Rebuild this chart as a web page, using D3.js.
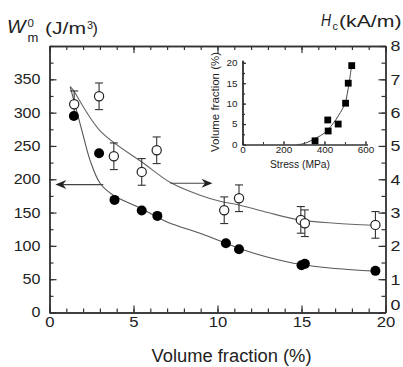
<!DOCTYPE html>
<html><head><meta charset="utf-8">
<script src="https://cdn.jsdelivr.net/npm/d3@7"></script>
<style>
body{margin:0;background:#fff}
svg{display:block}
text{font-family:"Liberation Sans",Arial,Helvetica,sans-serif;fill:#222}
</style>
</head><body>
<svg id="c" width="403" height="367"></svg>
<script>
// ---------- data ----------
const volFilled = [1.45, 2.95, 3.87, 5.49, 6.42, 10.5, 11.28, 15.0, 15.2, 19.4];
const wValues   = [295, 239, 169, 153, 145, 104, 95, 71, 73, 62.5];
const volOpen   = [1.47, 2.95, 3.83, 5.49, 6.38, 10.4, 11.28, 14.96, 15.2, 19.4];
const hcValues  = [6.25, 6.49, 4.69, 4.22, 4.87, 3.07, 3.43, 2.78, 2.68, 2.63];
const hcErrors  = [0.4, 0.4, 0.4, 0.4, 0.4, 0.4, 0.4, 0.4, 0.4, 0.4];
const wFitVol   = [1.23, 1.93, 2.42, 3.01, 3.8, 5.39, 7.0, 8.96, 10.5, 11.3, 13, 15, 17, 19.4];
const wFit      = [339, 273, 228, 194, 176, 157, 136, 119, 104, 96, 83, 72, 66, 62];
const hcFitVol  = [1.24, 1.43, 3.0, 5.6, 7.2, 8.96, 10.15, 11.34, 13, 14.9, 17, 19.25];
const hcFit     = [6.78, 6.66, 5.46, 4.48, 3.9, 3.52, 3.34, 3.22, 3.0, 2.78, 2.68, 2.62];
const xTickLabels = [0, 5, 10, 15, 20];
const wTickLabels = [0, 50, 100, 150, 200, 250, 300, 350];
const hcTickLabels = [0, 1, 2, 3, 4, 5, 6, 7, 8];
// arrows (data units)
const arrowLeft  = {x1: 3.2, x2: 0.35, w: 192};
const arrowRight = {x1: 7.2, x2: 9.7, w: 194};
// inset
const stress     = [354, 418, 416, 467, 503, 516, 533];
const volInset   = [0.9, 3.3, 6.0, 5.0, 10.1, 15.0, 19.3];
const fitStress  = [265, 290, 320, 360, 400, 440, 470, 500, 515, 533];
const fitVolIns  = [0, 0.1, 0.6, 1.6, 2.8, 5.0, 7.2, 10.0, 13.5, 19.5];
const insetXTicks = [0, 200, 400, 600];
const insetYTicks = [0, 5, 10, 15, 20];

// ---------- layout ----------
const L = 49.5, R = 385.5, T = 46, B = 312.5;
const svg = d3.select("#c");
const x = d3.scaleLinear().domain([0, 20]).range([L, R]);
const y = d3.scaleLinear().domain([0, 400]).range([B, T]);
const yR = d3.scaleLinear().domain([0, 8]).range([B, T]);
const axisColor = "#333";

function styleAxis(g) {
  g.selectAll("path,line").attr("stroke", axisColor).attr("stroke-width", 1.2);
  g.select(".domain").attr("stroke-width", 1.4);
  g.attr("font-family", null);
}

// minor ticks
svg.append("g").attr("transform", `translate(0,${B})`)
  .call(d3.axisBottom(x).tickValues(d3.range(0, 21, 1)).tickSizeInner(-4).tickSizeOuter(0).tickFormat(""))
  .call(styleAxis);
svg.append("g").attr("transform", `translate(0,${T})`)
  .call(d3.axisTop(x).tickValues(d3.range(0, 21, 1)).tickSizeInner(-4).tickSizeOuter(0).tickFormat(""))
  .call(styleAxis);
svg.append("g").attr("transform", `translate(${L},0)`)
  .call(d3.axisLeft(y).tickValues(d3.range(0, 401, 25)).tickSizeInner(-4).tickSizeOuter(0).tickFormat(""))
  .call(styleAxis);
svg.append("g").attr("transform", `translate(${R},0)`)
  .call(d3.axisRight(yR).tickValues(d3.range(0, 8.01, 0.5)).tickSizeInner(-4).tickSizeOuter(0).tickFormat(""))
  .call(styleAxis);

// major ticks + labels
const sx = 1.15;
const gxB = svg.append("g").attr("transform", `translate(0,${B})`)
  .call(d3.axisBottom(x).tickValues(xTickLabels).tickSizeInner(-7).tickSizeOuter(0).tickPadding(4))
  .call(styleAxis);
gxB.selectAll("text").attr("font-size", 14.5).attr("transform", `scale(${sx},1)`);

svg.append("g").attr("transform", `translate(0,${T})`)
  .call(d3.axisTop(x).tickValues(xTickLabels).tickSizeInner(-7).tickSizeOuter(0).tickFormat(""))
  .call(styleAxis);

const gyL = svg.append("g").attr("transform", `translate(${L},0)`)
  .call(d3.axisLeft(y).tickValues(wTickLabels).tickSizeInner(-7).tickSizeOuter(0).tickPadding(9))
  .call(styleAxis);
gyL.selectAll("text").attr("font-size", 14).attr("x", -9 / sx).attr("transform", `scale(${sx},1)`);

const gyR = svg.append("g").attr("transform", `translate(${R},0)`)
  .call(d3.axisRight(yR).tickValues(hcTickLabels).tickSizeInner(-7).tickSizeOuter(0).tickPadding(5))
  .call(styleAxis);
gyR.selectAll("text").attr("font-size", 15.5).attr("x", 5 / sx).attr("transform", `scale(${sx},1)`);
gyR.selectAll(".tick").filter(d => d === 0).select("text").attr("dy", "-0.2em");

// ---------- fit curves ----------
const line = d3.line().curve(d3.curveCatmullRom.alpha(0.5));
svg.append("path")
  .attr("d", line(wFitVol.map((v, i) => [x(v), y(wFit[i])])))
  .attr("fill", "none").attr("stroke", "#555").attr("stroke-width", 1.1);
svg.append("path")
  .attr("d", line(hcFitVol.map((v, i) => [x(v), yR(hcFit[i])])))
  .attr("fill", "none").attr("stroke", "#666").attr("stroke-width", 1.1);

// ---------- arrows ----------
function arrow(x1, x2, yy) {
  const px1 = x(x1), px2 = x(x2), py = yy;
  const dir = Math.sign(px2 - px1);
  svg.append("line").attr("x1", px1).attr("y1", py).attr("x2", px2 - dir * 3).attr("y2", py)
    .attr("stroke", "#444").attr("stroke-width", 1.2);
  const len = 11, half = 4.5, notch = 7.5;
  svg.append("path")
    .attr("d", `M${px2},${py} L${px2 - dir * len},${py - half} L${px2 - dir * notch},${py} L${px2 - dir * len},${py + half} Z`)
    .attr("fill", "#222");
}
arrow(arrowLeft.x1, arrowLeft.x2, y(arrowLeft.w));
arrow(arrowRight.x1, arrowRight.x2, y(arrowRight.w));

// ---------- error bars & open circles ----------
const eb = svg.append("g").attr("stroke", "#333").attr("stroke-width", 1.1);
volOpen.forEach((v, i) => {
  const cx = x(v), y1 = yR(hcValues[i] - hcErrors[i]), y2 = yR(hcValues[i] + hcErrors[i]);
  eb.append("line").attr("x1", cx).attr("x2", cx).attr("y1", y1).attr("y2", y2);
  eb.append("line").attr("x1", cx - 4).attr("x2", cx + 4).attr("y1", y1).attr("y2", y1);
  eb.append("line").attr("x1", cx - 4).attr("x2", cx + 4).attr("y1", y2).attr("y2", y2);
});
svg.append("g").selectAll("circle").data(volOpen).join("circle")
  .attr("cx", d => x(d)).attr("cy", (d, i) => yR(hcValues[i])).attr("r", 4.6)
  .attr("fill", "#fff").attr("stroke", "#222").attr("stroke-width", 1.2);

// filled circles
svg.append("g").selectAll("circle").data(volFilled).join("circle")
  .attr("cx", d => x(d)).attr("cy", (d, i) => y(wValues[i])).attr("r", 5)
  .attr("fill", "#000");

// ---------- axis titles ----------
function txt(s, px, py, size, opts = {}) {
  const t = svg.append("text").attr("x", px).attr("y", py).attr("font-size", size).text(s);
  if (opts.italic) t.attr("font-style", "italic");
  if (opts.anchor) t.attr("text-anchor", opts.anchor);
  if (opts.len) t.attr("textLength", opts.len).attr("lengthAdjust", "spacingAndGlyphs");
  return t;
}
txt("W", 7, 32.5, 17.5, {italic: true, len: 18.5});
txt("0", 27.5, 26.5, 11.5);
txt("m", 27.5, 41.5, 13);
txt("(J/m", 45, 34, 16, {len: 41});
txt("3", 87, 28.5, 11);
txt(")", 92.5, 34, 16);

txt("H", 321, 25.5, 17, {italic: true, len: 10});
txt("c", 332.5, 30, 11);
txt("(kA/m)", 339, 26.5, 17, {len: 62.5});

txt("Volume fraction (%)", 231.5, 362, 17.5, {anchor: "middle", len: 160});

// ---------- inset ----------
const ix = d3.scaleLinear().domain([0, 610]).range([242.5, 367.5]);
const iy = d3.scaleLinear().domain([0, 20.6]).range([144.5, 60.3]);
const gix = svg.append("g").attr("transform", `translate(0,${iy(0)})`)
  .call(d3.axisBottom(ix).tickValues(d3.range(0, 601, 100)).tickSizeInner(-2.5).tickSizeOuter(0).tickFormat(""))
  .call(styleAxis);
const gix2 = svg.append("g").attr("transform", `translate(0,${iy(0)})`)
  .call(d3.axisBottom(ix).tickValues(insetXTicks).tickSizeInner(-3.5).tickSizeOuter(0).tickPadding(2))
  .call(styleAxis);
gix2.selectAll("text").attr("font-size", 9).attr("transform", "scale(1.1,1)");
svg.append("g").attr("transform", `translate(${ix(0)},0)`)
  .call(d3.axisLeft(iy).tickValues(d3.range(0, 20.1, 2.5)).tickSizeInner(-2.5).tickSizeOuter(0).tickFormat(""))
  .call(styleAxis);
const giy2 = svg.append("g").attr("transform", `translate(${ix(0)},0)`)
  .call(d3.axisLeft(iy).tickValues(insetYTicks).tickSizeInner(-3.5).tickSizeOuter(0).tickPadding(5))
  .call(styleAxis);
giy2.selectAll("text").attr("font-size", 9).attr("x", -5 / 1.1).attr("transform", "scale(1.1,1)");
[gix, gix2].forEach(g => g.selectAll("path,line").attr("stroke-width", 1));
svg.append("path")
  .attr("d", line(fitStress.map((s, i) => [ix(s), iy(fitVolIns[i])])))
  .attr("fill", "none").attr("stroke", "#444").attr("stroke-width", 1);
svg.append("g").selectAll("rect").data(stress).join("rect")
  .attr("x", d => ix(d) - 3.4).attr("y", (d, i) => iy(volInset[i]) - 3.4)
  .attr("width", 6.8).attr("height", 6.8).attr("fill", "#000");
svg.append("text").attr("transform", `translate(219,102) rotate(-90)`)
  .attr("text-anchor", "middle").attr("font-size", 10).attr("textLength", 100)
  .attr("lengthAdjust", "spacingAndGlyphs").text("Volume fraction (%)");
svg.append("text").attr("x", 300).attr("y", 168).attr("text-anchor", "middle")
  .attr("font-size", 10).attr("textLength", 60).attr("lengthAdjust", "spacingAndGlyphs").text("Stress (MPa)");
</script>
</body></html>
